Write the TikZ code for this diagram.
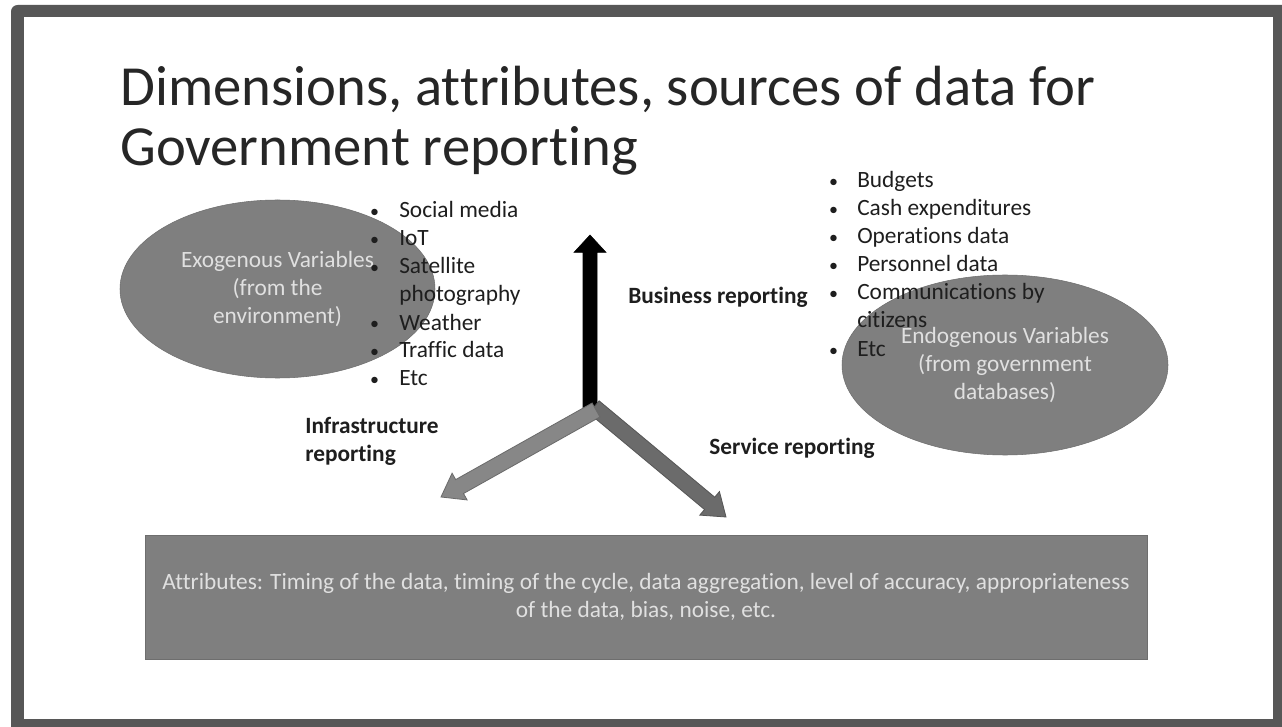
\documentclass[tikz,border=0pt]{standalone}
\usepackage{fontspec}
\setmainfont{Carlito}[Ligatures=NoCommon]
\usetikzlibrary{calc,shapes.geometric}

\definecolor{frame}{HTML}{575757}
\definecolor{blob}{HTML}{7F7F7F}
\definecolor{blobedge}{HTML}{6E6E6E}
\definecolor{blobtext}{HTML}{E0E0E0}
\definecolor{ink}{HTML}{1E1E1E}
\definecolor{titleink}{HTML}{262626}
\definecolor{lightarrow}{HTML}{878787}
\definecolor{lightedge}{HTML}{6A6A6A}
\definecolor{darkarrow}{HTML}{6B6B6B}
\definecolor{darkedge}{HTML}{555555}

% block arrow from tail #2 to tip #3: shaft half width #4, head half width #5, head length #6
\newcommand\blockarrow[6]{%
  \coordinate (ba-neck) at ($(#3)!#6!(#2)$);
  \filldraw[#1] ($(#2)!#4!90:(#3)$) -- ($(ba-neck)!#4!90:(#3)$) -- ($(ba-neck)!#5!90:(#3)$)
    -- (#3) -- ($(ba-neck)!#5!-90:(#3)$) -- ($(ba-neck)!#4!-90:(#3)$) -- ($(#2)!#4!-90:(#3)$) -- cycle;
}

\newcommand\bodyfont{\fontsize{17.5}{21}\selectfont}
% bullet mark in a box of the given width
\newcommand\itemmark[1]{\makebox[#1][l]{\hspace*{0.6pt}\raisebox{0.6pt}{\fontsize{13.5}{13.5}\selectfont •}}}

\begin{document}
\begin{tikzpicture}[x=0.75pt,y=-0.75pt,
  titletext/.style={anchor=base west, inner sep=0, text=titleink, font=\fontsize{42.5}{45}\selectfont},
  item/.style={anchor=base west, inner sep=0, text=ink, font=\bodyfont},
  axislabel/.style={anchor=base west, inner sep=0, text=ink, font=\bodyfont\bfseries},
  blobshape/.style={ellipse, fill=blob, draw=blobedge, line width=0.4pt, inner sep=0,
    text=blobtext, align=center, font=\bodyfont},
  attrbox/.style={rectangle, fill=blob, draw=blobedge, line width=0.6pt, inner sep=0,
    text=blobtext, align=center, font=\bodyfont},
]
\useasboundingbox (0,0) rectangle (1282,727);
\fill[white] (0,0) rectangle (1282,727);

% slide frame
\fill[frame, rounded corners=5pt] (11,5) rectangle (1300,745);
\fill[white] (24,17) rectangle (1273,719);

% title
\node[titletext] (title1) at (120,106) {Dimensions, attributes, sources of data for};
\node[titletext] (title2) at (120,166) {Government reporting};

% variable groups
\node[blobshape, minimum width=236.25pt, minimum height=133.5pt] (exo) at (277.5,289)
  {Exogenous Variables\\(from the\\environment)};
\node[blobshape, minimum width=244.5pt, minimum height=135pt] (endo) at (1005,365)
  {Endogenous Variables\\(from government\\databases)};

% exogenous sources
\node[item] (ex1) at (369,218) {\itemmark{22.5pt}Social media};
\node[item] (ex2) at (369,246) {\itemmark{22.5pt}IoT};
\node[item] (ex3) at (369,274) {\itemmark{22.5pt}Satellite};
\node[item] (ex3b) at (399,302) {photography};
\node[item] (ex4) at (369,330) {\itemmark{22.5pt}Weather};
\node[item] (ex5) at (369,358) {\itemmark{22.5pt}Traffic data};
\node[item] (ex6) at (369,386) {\itemmark{22.5pt}Etc};

% endogenous sources
\node[item] (en1) at (828,188) {\itemmark{21.75pt}Budgets};
\node[item] (en2) at (828,216) {\itemmark{21.75pt}Cash expenditures};
\node[item] (en3) at (828,244) {\itemmark{21.75pt}Operations data};
\node[item] (en4) at (828,272) {\itemmark{21.75pt}Personnel data};
\node[item] (en5) at (828,300) {\itemmark{21.75pt}Communications by};
\node[item] (en5b) at (857,328) {citizens};
\node[item] (en6) at (828,357) {\itemmark{21.75pt}Etc};

% reporting axes
\coordinate (bizTail) at (590,409);
\coordinate (bizTip) at (590,235);
\coordinate (srvTail) at (594,407);
\coordinate (srvTip) at (726,517);
\coordinate (infTail) at (596,410);
\coordinate (infTip) at (441,497);
\blockarrow{fill=black, draw=black, line width=0.4pt}{bizTail}{bizTip}{5.25pt}{12pt}{13pt}
\blockarrow{fill=darkarrow, draw=darkedge, line width=0.6pt}{srvTail}{srvTip}{6pt}{11.5pt}{16pt}
\blockarrow{fill=lightarrow, draw=lightedge, line width=0.6pt}{infTail}{infTip}{6pt}{11.5pt}{16pt}

\node[axislabel] (biz) at (628,304) {Business reporting};
\node[axislabel] (inf1) at (305,433) {Infrastructure};
\node[axislabel] (inf2) at (305,461) {reporting};
\node[axislabel] (srv) at (709,454) {Service reporting};

% attributes
\node[attrbox, minimum width=751.5pt, minimum height=93pt] (attr) at (646,597)
  {Attributes: Timing of the data, timing of the cycle, data aggregation, level of accuracy, appropriateness\\of the data, bias, noise, etc.};
\end{tikzpicture}
\end{document}
